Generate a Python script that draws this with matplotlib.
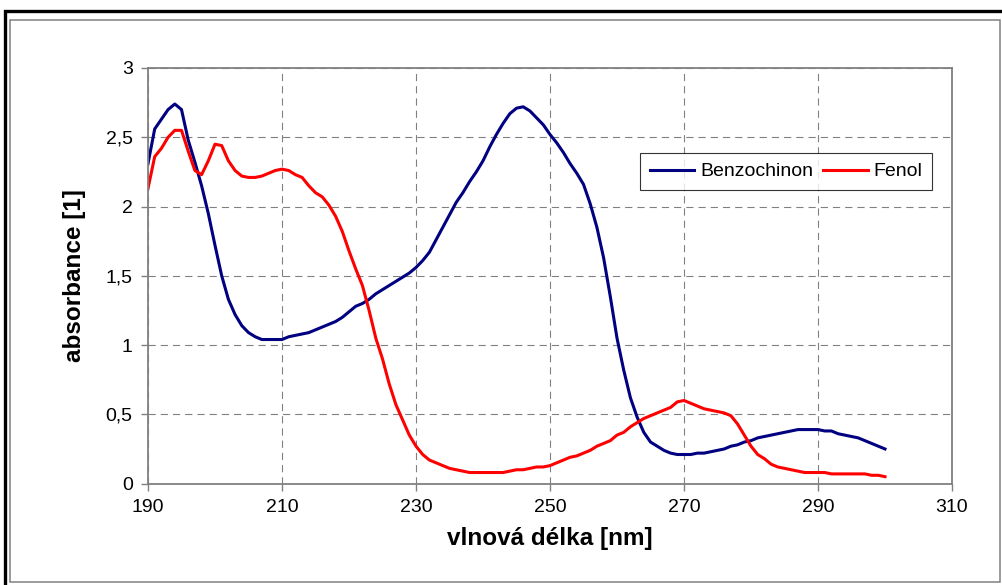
import matplotlib
matplotlib.use('Agg')
from matplotlib import pyplot as plt
from matplotlib.patches import Rectangle
from matplotlib.ticker import FuncFormatter
import numpy as np

plt.rcParams['font.family'] = ['Liberation Sans', 'DejaVu Sans']

# UV spectra, 1 nm step
wavelength = list(range(190, 301))
benzochinon = [
    2.31, 2.56, 2.63, 2.70, 2.74, 2.70, 2.48, 2.32, 2.15, 1.95,
    1.72, 1.50, 1.33, 1.22, 1.14, 1.09, 1.06, 1.04, 1.04, 1.04,
    1.04, 1.06, 1.07, 1.08, 1.09, 1.11, 1.13, 1.15, 1.17, 1.20,
    1.24, 1.28, 1.30, 1.33, 1.37, 1.40, 1.43, 1.46, 1.49, 1.52,
    1.56, 1.61, 1.67, 1.76, 1.85, 1.94, 2.03, 2.10, 2.18, 2.25,
    2.33, 2.43, 2.52, 2.60, 2.67, 2.71, 2.72, 2.69, 2.64, 2.59,
    2.52, 2.46, 2.39, 2.31, 2.24, 2.16, 2.02, 1.85, 1.63, 1.35,
    1.05, 0.82, 0.62, 0.48, 0.37, 0.30, 0.27, 0.24, 0.22, 0.21,
    0.21, 0.21, 0.22, 0.22, 0.23, 0.24, 0.25, 0.27, 0.28, 0.30,
    0.31, 0.33, 0.34, 0.35, 0.36, 0.37, 0.38, 0.39, 0.39, 0.39,
    0.39, 0.38, 0.38, 0.36, 0.35, 0.34, 0.33, 0.31, 0.29, 0.27,
    0.25]
fenol = [
    2.13, 2.36, 2.42, 2.50, 2.55, 2.55, 2.40, 2.26, 2.23, 2.33,
    2.45, 2.44, 2.33, 2.26, 2.22, 2.21, 2.21, 2.22, 2.24, 2.26,
    2.27, 2.26, 2.23, 2.21, 2.15, 2.10, 2.07, 2.01, 1.93, 1.82,
    1.68, 1.55, 1.43, 1.25, 1.05, 0.90, 0.72, 0.57, 0.46, 0.35,
    0.27, 0.21, 0.17, 0.15, 0.13, 0.11, 0.10, 0.09, 0.08, 0.08,
    0.08, 0.08, 0.08, 0.08, 0.09, 0.10, 0.10, 0.11, 0.12, 0.12,
    0.13, 0.15, 0.17, 0.19, 0.20, 0.22, 0.24, 0.27, 0.29, 0.31,
    0.35, 0.37, 0.41, 0.44, 0.47, 0.49, 0.51, 0.53, 0.55, 0.59,
    0.60, 0.58, 0.56, 0.54, 0.53, 0.52, 0.51, 0.49, 0.43, 0.35,
    0.27, 0.21, 0.18, 0.14, 0.12, 0.11, 0.10, 0.09, 0.08, 0.08,
    0.08, 0.08, 0.07, 0.07, 0.07, 0.07, 0.07, 0.07, 0.06, 0.06,
    0.05]
x_ticks = [190, 210, 230, 250, 270, 290, 310]
y_ticks = [0, 0.5, 1, 1.5, 2, 2.5, 3]

W, H = 1003, 585
fig = plt.figure(figsize=(W / 100, H / 100), dpi=100)
fig.patch.set_facecolor('white')

# chart frames (outer black, inner gray)
fig.add_artist(Rectangle((5 / W, 1 - 600 / H), 1010 / W, 589 / H,
                         transform=fig.transFigure, fill=False,
                         edgecolor='black', linewidth=2.4))
fig.add_artist(Rectangle((10 / W, 1 - 582 / H), 990 / W, 562 / H,
                         transform=fig.transFigure, fill=False,
                         edgecolor='#808080', linewidth=1.1))

ax = fig.add_axes([148 / W, 1 - 483.6 / H, 804 / W, 415.6 / H])
ax.plot(wavelength, benzochinon, color='#000080', lw=2.2, label='Benzochinon')
ax.plot(wavelength, fenol, color='#ff0000', lw=2.2, label='Fenol')

ax.set_xlim(190, 310)
ax.set_ylim(0, 3)
ax.set_xticks(x_ticks)
ax.set_yticks(y_ticks)
ax.yaxis.set_major_formatter(FuncFormatter(lambda v, p: ('%g' % v).replace('.', ',')))
ax.tick_params(labelsize=14, color='#808080', length=5, width=1, pad=6)
for s in ax.spines.values():
    s.set_color('#808080')
    s.set_linewidth(1.3)
ax.grid(True, color='#808080', lw=0.8, linestyle=(0, (6.5, 4.5)))
ax.set_axisbelow(True)

ax.set_xlabel('vlnová délka [nm]', fontsize=17.5, fontweight='bold', labelpad=8)
ax.set_ylabel('absorbance [1]', fontsize=17.5, fontweight='bold', labelpad=14)

leg = ax.legend(loc='upper left', bbox_to_anchor=(640 / W, 1 - 153 / H),
                bbox_transform=fig.transFigure, ncol=2, fontsize=14,
                frameon=True, fancybox=False, borderaxespad=0,
                handlelength=2.3, handletextpad=0.3, columnspacing=0.5,
                borderpad=0.5)
leg.get_frame().set_edgecolor('#000000')
leg.get_frame().set_linewidth(0.8)

fig.savefig('out.png', dpi=100)
